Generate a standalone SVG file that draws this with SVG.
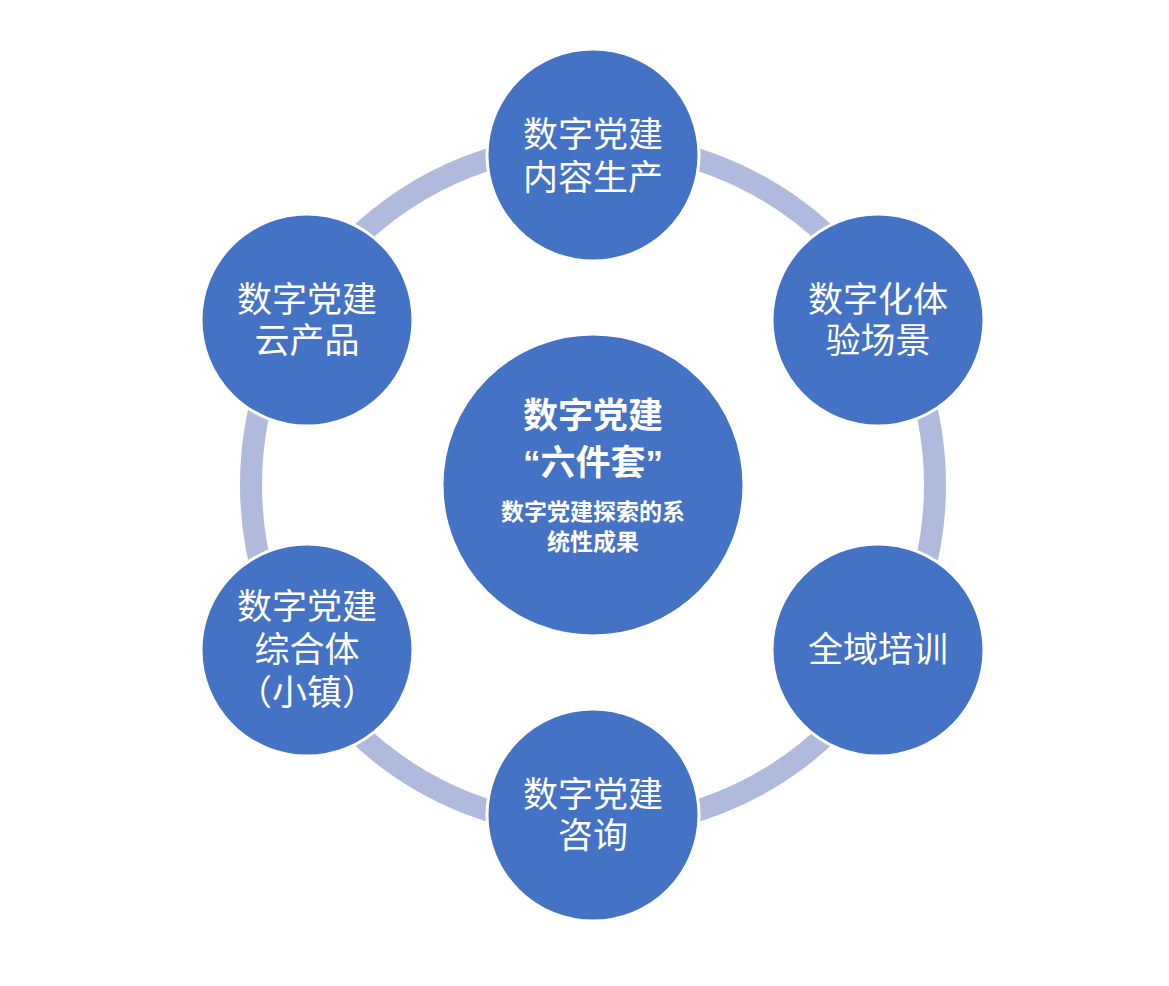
<svg xmlns="http://www.w3.org/2000/svg" width="1169" height="986" viewBox="0 0 1169 986">
<style>
.node{fill:#4472C4;stroke:#FFFFFF;stroke-width:3}
.lbl{font-family:"Liberation Sans","Noto Sans CJK SC",sans-serif;font-size:35px;fill:#FFFFFF;text-anchor:middle}
.ctr{font-family:"Liberation Sans","Noto Sans CJK SC",sans-serif;font-weight:bold;fill:#FFFFFF;text-anchor:middle}
</style>
<rect width="1169" height="986" fill="#FFFFFF"/>
<g id="connectors">
<circle cx="593" cy="485" r="342" fill="none" stroke="#AFBADD" stroke-width="22"/>
</g>
<g id="center">
<circle class="node" cx="593" cy="485" r="151"/>
<text class="ctr" x="593" y="428" font-size="35">数字党建</text>
<text class="ctr" x="593" y="475" font-size="35">“六件套”</text>
<text class="ctr" x="593" y="520" font-size="23">数字党建探索的系</text>
<text class="ctr" x="593" y="550" font-size="23">统性成果</text>
</g>
<g id="n1">
<circle class="node" cx="593" cy="155" r="106"/>
<text class="lbl" x="593" y="147">数字党建</text>
<text class="lbl" x="593" y="190">内容生产</text>
</g>
<g id="n2">
<circle class="node" cx="878" cy="320" r="106"/>
<text class="lbl" x="878" y="312">数字化体</text>
<text class="lbl" x="878" y="353">验场景</text>
</g>
<g id="n3">
<circle class="node" cx="878" cy="650" r="106"/>
<text class="lbl" x="878" y="662">全域培训</text>
</g>
<g id="n4">
<circle class="node" cx="593" cy="815" r="106"/>
<text class="lbl" x="593" y="807">数字党建</text>
<text class="lbl" x="593" y="848">咨询</text>
</g>
<g id="n5">
<circle class="node" cx="307" cy="650" r="106"/>
<text class="lbl" x="307" y="619">数字党建</text>
<text class="lbl" x="307" y="662">综合体</text>
<text class="lbl" x="307" y="705">（小镇）</text>
</g>
<g id="n6">
<circle class="node" cx="307" cy="320" r="106"/>
<text class="lbl" x="307" y="312">数字党建</text>
<text class="lbl" x="307" y="353">云产品</text>
</g>
</svg>
